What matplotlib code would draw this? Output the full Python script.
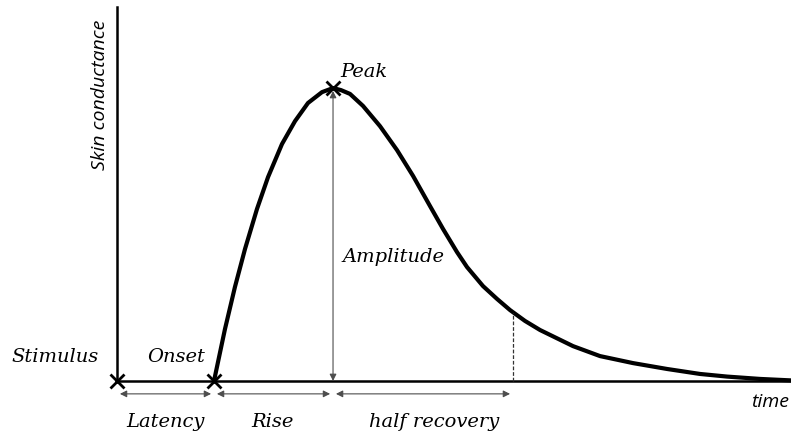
import matplotlib.pyplot as plt
import numpy as np

# Schematic skin conductance response
# time in units of the stimulus->onset latency, conductance in units of amplitude
t_curve = [1.000, 1.113, 1.216, 1.320, 1.443, 1.557, 1.701, 1.835, 1.969, 2.113,
           2.227, 2.309, 2.402, 2.536, 2.711, 2.887, 3.052, 3.227, 3.361, 3.505,
           3.608, 3.773, 3.918, 4.052, 4.206, 4.361, 4.701, 4.979, 5.320, 5.670,
           6.010, 6.289, 6.629, 6.948]
sc_curve = [0.000, 0.177, 0.321, 0.451, 0.587, 0.696, 0.809, 0.887, 0.949, 0.986,
            1.000, 0.993, 0.980, 0.939, 0.870, 0.788, 0.700, 0.597, 0.519, 0.440,
            0.389, 0.324, 0.280, 0.242, 0.205, 0.174, 0.119, 0.085, 0.061, 0.041,
            0.024, 0.015, 0.007, 0.002]

t_stim = 0.0
t_onset = 1.0
t_peak = 2.227
sc_peak = 1.0
t_half = 4.082
sc_half = 0.232

t_end = 6.95
sc_top = 1.276

fig = plt.figure(figsize=(7.91, 4.35), dpi=100)
ax = fig.add_axes([0, 0, 1, 1])
ax.set_xlim(-1.206, 6.948)
ax.set_ylim(-0.181, 1.304)
ax.axis('off')

serif = dict(family='DejaVu Serif', style='italic', fontsize=14)
sans = dict(family='Open Sans', style='italic', fontsize=14)

# axes lines
ax.plot([t_stim, t_stim], [0, sc_top], color='black', lw=1.8)
ax.plot([t_stim, t_end], [0, 0], color='black', lw=1.8)

# response curve
ax.plot(t_curve, sc_curve, color='black', lw=3.0,
        solid_capstyle='round', solid_joinstyle='round')

# markers
ax.plot([t_stim, t_onset, t_peak], [0, 0, sc_peak], 'kx', ms=10, mew=2.0)

# amplitude arrow
ax.annotate('', xy=(t_peak, sc_peak - 0.01), xytext=(t_peak, 0),
            arrowprops=dict(arrowstyle='<|-|>', color='0.3', lw=0.8,
                            mutation_scale=10, shrinkA=0, shrinkB=0))

# half recovery dashed line
ax.plot([t_half, t_half], [0, sc_half], color='0.2', lw=0.9, ls='--', dashes=(3, 1.5))

# dimension arrows below time axis
y_dim = -0.044
for a, b in [(t_stim, t_onset), (t_onset, t_peak), (t_peak, t_half)]:
    ax.annotate('', xy=(b - 0.03, y_dim), xytext=(a + 0.03, y_dim),
                arrowprops=dict(arrowstyle='<|-|>', color='0.3', lw=0.8,
                                mutation_scale=10, shrinkA=0, shrinkB=0))

# labels
ax.text(-0.64, 0.085, 'Stimulus', ha='center', va='center', **serif)
ax.text(0.61, 0.085, 'Onset', ha='center', va='center', **serif)
ax.text(2.30, 1.058, 'Peak', ha='left', va='center', **serif)
ax.text(2.32, 0.425, 'Amplitude', ha='left', va='center', **serif)
ax.text(0.50, -0.136, 'Latency', ha='center', va='center', **serif)
ax.text(1.60, -0.136, 'Rise', ha='center', va='center', **serif)
ax.text(3.27, -0.136, 'half recovery', ha='center', va='center', **serif)
ax.text(6.93, -0.068, 'time', ha='right', va='center', **sans)
ax.text(-0.18, 0.98, 'Skin conductance', ha='center', va='center', rotation=90, **sans)

plt.savefig('out.png', dpi=100)
